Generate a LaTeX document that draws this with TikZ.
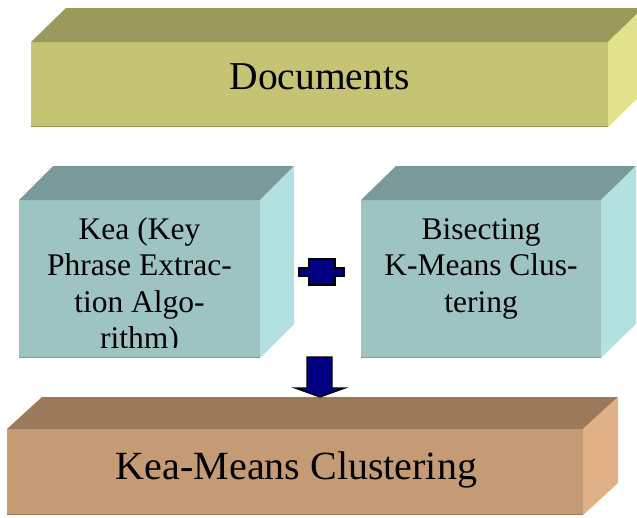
\documentclass[tikz,border=0pt]{standalone}
\usepackage{fontspec}
\setmainfont{Liberation Serif}
\definecolor{docfront}{RGB}{196,196,116}
\definecolor{doctop}{RGB}{154,154,90}
\definecolor{docside}{RGB}{226,226,138}
\definecolor{algfront}{RGB}{157,195,195}
\definecolor{algtop}{RGB}{122,154,154}
\definecolor{algside}{RGB}{179,224,224}
\definecolor{resfront}{RGB}{196,155,116}
\definecolor{restop}{RGB}{154,122,90}
\definecolor{resside}{RGB}{224,177,134}
\definecolor{signblue}{RGB}{0,0,128}
\begin{document}
\begin{tikzpicture}[x=1pt, y=-1pt,
    boxtext/.style={inner sep=0pt, align=center},
    sign/.style={fill=signblue, draw=black, line width=1.2pt, line join=miter}]
    \useasboundingbox (0,0) rectangle (637,517);
    \clip (0,0) rectangle (637,517);
    % documents block
    \fill [docfront] (31,42) rectangle (608,127);
    \fill [doctop] (31,42) -- (66,8) -- (643,8) -- (608,42) -- cycle;
    \fill [docside] (608,42) -- (643,8) -- (643,93) -- (608,127) -- cycle;
    \draw [thick, doctop] (31,126.5) -- (608,126.5);
    \node [boxtext, anchor=base, font=\fontsize{39.5}{42}\selectfont] (docs) at (319.5,89) {Documents};
    % kea block
    \fill [algfront] (19,200) rectangle (260,358);
    \fill [algtop] (19,200) -- (53,166) -- (294,166) -- (260,200) -- cycle;
    \fill [algside] (260,200) -- (294,166) -- (294,324) -- (260,358) -- cycle;
    \draw [thick, algtop] (19,357.5) -- (260,357.5);
    \begin{scope}
      \clip (19,200) rectangle (260,347);
      \node [boxtext, anchor=north, font=\fontsize{31.5}{36.3}\selectfont] (kea) at (139.5,217.5)
        {Kea (Key\\Phrase Extrac-\\tion Algo-\\rithm)};
    \end{scope}
    % bisecting block
    \fill [algfront] (361,200) rectangle (601,358);
    \fill [algtop] (361,200) -- (396,166) -- (636,166) -- (601,200) -- cycle;
    \fill [algside] (601,200) -- (636,166) -- (636,324) -- (601,358) -- cycle;
    \draw [thick, algtop] (361,357.5) -- (601,357.5);
    \node [boxtext, anchor=north, font=\fontsize{31.5}{36.3}\selectfont] (bisect) at (481,218.5)
      {Bisecting\\K-Means Clus-\\tering};
    % result block
    \fill [resfront] (7,429) rectangle (583,515);
    \fill [restop] (7,429) -- (42,397) -- (618,397) -- (583,429) -- cycle;
    \fill [resside] (583,429) -- (618,397) -- (618,483) -- (583,515) -- cycle;
    \draw [thick, restop] (7,514.5) -- (583,514.5);
    \node [boxtext, anchor=base, font=\fontsize{40}{43}\selectfont] (keamean) at (296.5,479) {Kea-Means Clustering};
    % plus and arrow
    \draw [sign] (299,268) -- (309,268) -- (309,259) -- (335,259) -- (335,268) -- (344,268)
      -- (344,276) -- (335,276) -- (335,285) -- (309,285) -- (309,276) -- (299,276) -- cycle;
    \draw [sign] (307,357) -- (332,357) -- (332,388) -- (345,388) -- (320,397)
      -- (295,388) -- (307,388) -- cycle;
  \end{tikzpicture}
\end{document}
